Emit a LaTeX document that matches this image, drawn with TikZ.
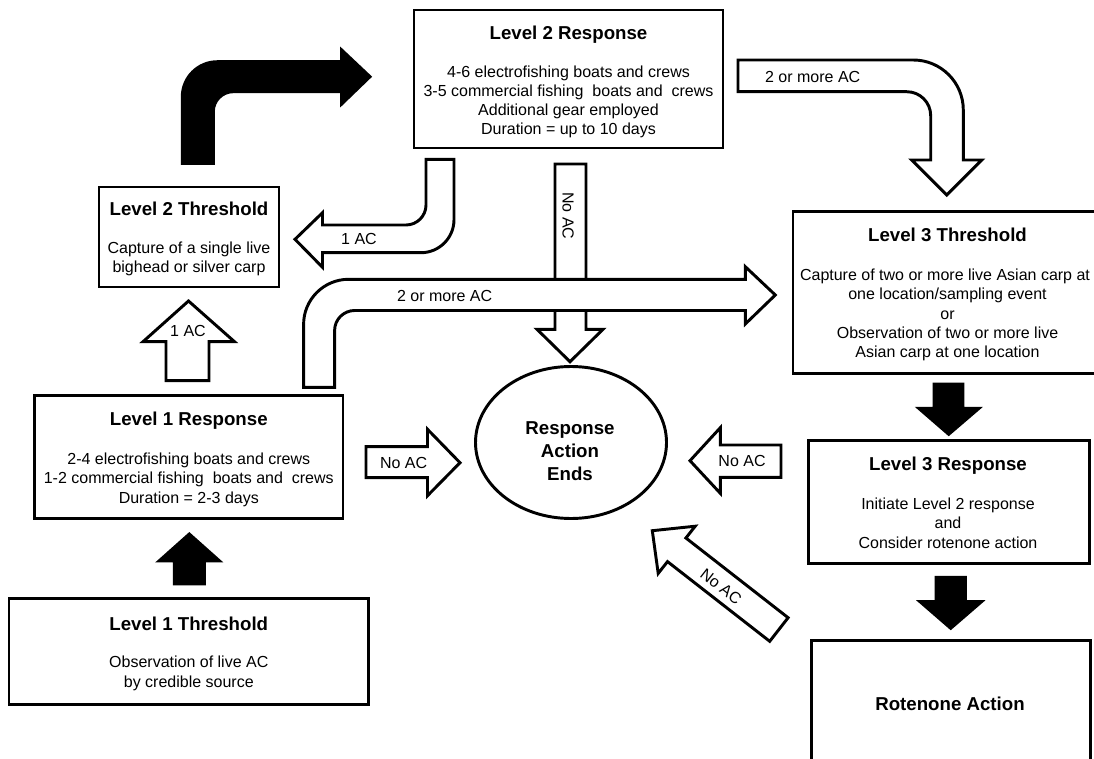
\documentclass[tikz,border=0pt]{standalone}
\usepackage{fontspec}
\setmainfont{Liberation Sans}
\tikzset{
  box/.style={draw, line width=2.2pt, rectangle, inner sep=0pt},
  endbox/.style={draw, line width=2.2pt, ellipse, inner sep=0pt},
  ttl/.style={anchor=base, font=\fontsize{14}{16}\selectfont\bfseries, inner sep=0pt},
  bdy/.style={anchor=base, font=\fontsize{12}{14}\selectfont, inner sep=0pt},
  lbl/.style={font=\fontsize{12}{14}\selectfont, inner sep=0pt},
  wa/.style={draw, fill=white, line width=2.2pt, line join=miter},
  ba/.style={draw, fill=black, line width=2.2pt, line join=miter},
}
\usetikzlibrary{shapes.geometric}
\begin{document}
\begin{tikzpicture}[x=0.75pt,y=-0.75pt]
\useasboundingbox (0,0) rectangle (1094,759);
\clip (0,0) rectangle (1094,759);
\fill[white] (0,0) rectangle (1094,759);

% ---------- boxes ----------
\node[box, minimum width=231.75pt, minimum height=103.5pt] (l2r) at (568.5,79) {};
\node[box, minimum width=135pt, minimum height=75pt] (l2t) at (189,237) {};
\node[box, minimum width=231.3pt, minimum height=92.5pt] (l1r) at (188.8,456.7) {};
\node[box, minimum width=269.7pt, minimum height=79.3pt] (l1t) at (188.8,651.2) {};
\node[box, minimum width=230.25pt, minimum height=121.2pt] (l3t) at (946.5,292.5) {};
\node[box, minimum width=211pt, minimum height=92.5pt] (l3r) at (948.9,501.7) {};
\node[box, minimum width=209.6pt, minimum height=95.25pt] (rot) at (950.8,704) {};
\node[endbox, minimum width=143.25pt, minimum height=114pt] (rae) at (571,442.5) {};

% ---------- box texts ----------
\node[ttl] (l2r-t) at (568.5,39.7) {Level 2 Response};
\node[bdy] (l2r-a) at (568.5,77.5) {4-6 electrofishing boats and crews};
\node[bdy] (l2r-b) at (568.5,97) {3-5 commercial fishing\ \ boats and\ \ crews};
\node[bdy] (l2r-c) at (568.5,116) {Additional gear employed};
\node[bdy] (l2r-d) at (568.5,134.5) {Duration = up to 10 days};

\node[ttl] (l2t-t) at (189,215) {Level 2 Threshold};
\node[bdy] (l2t-a) at (189,253.3) {Capture of a single live};
\node[bdy] (l2t-b) at (189,272.7) {bighead or silver carp};

\node[ttl] (l1r-t) at (188.8,425) {Level 1 Response};
\node[bdy] (l1r-a) at (188.8,464) {2-4 electrofishing boats and crews};
\node[bdy] (l1r-b) at (188.8,483.5) {1-2 commercial fishing\ \ boats and\ \ crews};
\node[bdy] (l1r-c) at (188.8,503) {Duration = 2-3 days};

\node[ttl] (l1t-t) at (188.8,630) {Level 1 Threshold};
\node[bdy] (l1t-a) at (188.8,667.7) {Observation of live AC};
\node[bdy] (l1t-b) at (188.8,687.7) {by credible source};

\node[ttl] (l3t-t) at (947.5,241.3) {Level 3 Threshold};
\node[bdy] (l3t-a) at (945,280) {Capture of two or more live Asian carp at};
\node[bdy] (l3t-b) at (947.5,299.3) {one location/sampling event};
\node[bdy] (l3t-c) at (947.5,319) {or};
\node[bdy] (l3t-d) at (947.5,338.3) {Observation of two or more live};
\node[bdy] (l3t-e) at (947.5,357.3) {Asian carp at one location};

\node[ttl] (l3r-t) at (948,470) {Level 3 Response};
\node[bdy] (l3r-a) at (948,509) {Initiate Level 2 response};
\node[bdy] (l3r-b) at (948,528.3) {and};
\node[bdy] (l3r-c) at (948,548.3) {Consider rotenone action};

\node[ttl] (rot-t) at (950,710.7) {Rotenone Action};

\node[ttl] (rae-a) at (570,434.4) {Response};
\node[ttl] (rae-b) at (570,457.4) {Action};
\node[ttl] (rae-c) at (570,480.4) {Ends};

% ---------- block arrows ----------
% Level 2 Threshold -> Level 2 Response (black, bent)
\path[ba] (182.3,163.3) -- (182.3,96.7)
  .. controls (182.3,77.4) and (198,61.7) .. (217.3,61.7)
  -- (341.7,61.7) -- (341.7,50) -- (370,76.7) -- (341.7,104) -- (341.7,91.7)
  -- (233.3,91.7) .. controls (222.3,91.7) and (213.3,100.7) .. (213.3,111.7)
  -- (213.3,163.3) -- cycle;

% Level 2 Response -> Level 2 Threshold (1 AC, bent)
\path[wa] (426,159.3) -- (426,205)
  .. controls (426,216) and (417,225) .. (406,225)
  -- (322.5,225) -- (322.5,212.7) -- (295,239.3) -- (322.5,267.3) -- (322.5,252.7)
  -- (421,252.7) .. controls (439.2,252.7) and (454,237.9) .. (454,219.7)
  -- (454,159.3) -- cycle;
\node[lbl] (lab-1ac-a) at (359,239) {1 AC};

% Level 2 Response -> Response Action Ends (No AC, vertical)
\path[wa] (555,164) -- (555,329.3) -- (537,329.3) -- (570,361.7) -- (603,329.3)
  -- (586,329.3) -- (586,164) -- cycle;
\node[lbl, rotate=-90] (lab-noac-v) at (568,216) {No AC};

% Level 1 Response -> Level 3 Threshold (2 or more AC)
\path[wa] (303.6,387.3) -- (303.6,324.3)
  .. controls (303.6,299.5) and (323.8,279.3) .. (348.6,279.3)
  -- (745.3,279.3) -- (745.3,266.7) -- (775.3,295) -- (745.3,324) -- (745.3,310.5)
  -- (354.6,310.5) .. controls (343.6,310.5) and (334.6,319.5) .. (334.6,330.5)
  -- (334.6,387.3) -- cycle;
\node[lbl] (lab-2ac-a) at (444.6,296) {2 or more AC};

% Level 1 Response -> Level 2 Threshold (1 AC, up)
\path[wa] (166,380.7) -- (166,341.7) -- (143,341.7) -- (188.5,301) -- (234.5,341.7)
  -- (209,341.7) -- (209,380.7) -- cycle;
\node[lbl] (lab-1ac-b) at (188,331) {1 AC};

% Level 1 Threshold -> Level 1 Response (black, up)
\path[ba] (174.3,584) -- (174.3,561) -- (159,561) -- (189.3,534) -- (219.6,561)
  -- (204.3,561) -- (204.3,584) -- cycle;

% Level 1 Response -> Response Action Ends (No AC, right)
\path[wa] (366,446.7) -- (427.5,446.7) -- (427.5,429.3) -- (460,462.7) -- (427.5,495.7)
  -- (427.5,477.7) -- (366,477.7) -- cycle;
\node[lbl] (lab-noac-r) at (403.6,462.7) {No AC};

% Level 3 Response -> Response Action Ends (No AC, left)
\path[wa] (781,445) -- (720.3,445) -- (720.3,427.7) -- (690,460.7) -- (720.3,493.3)
  -- (720.3,477.3) -- (781,477.3) -- cycle;
\node[lbl] (lab-noac-l) at (742,460.7) {No AC};

% Rotenone Action -> Response Action Ends (No AC, diagonal)
\path[wa] (652.3,530.7) -- (695.2,526.2) -- (685.9,538.0) -- (788.1,617.7)
  -- (769.7,641.3) -- (667.5,561.6) -- (658.2,573.4) -- cycle;
\node[lbl, rotate=-38] (lab-noac-d) at (721,586.7) {No AC};

% Level 2 Response -> Level 3 Threshold (2 or more AC, bent)
\path[wa] (738,60) -- (913.3,60)
  .. controls (940.9,60) and (963.3,82.4) .. (963.3,110)
  -- (963.3,160) -- (981.7,160) -- (946.7,195) -- (911.7,160) -- (930.7,160)
  -- (930.7,115.7) .. controls (930.7,102.4) and (920,91.7) .. (906.7,91.7)
  -- (738,91.7) -- cycle;
\node[lbl] (lab-2ac-b) at (812.7,76.7) {2 or more AC};

% Level 3 Threshold -> Level 3 Response (black, down)
\path[ba] (934,384) -- (934,408.3) -- (918.7,408.3) -- (948.7,434.3) -- (979,408.3)
  -- (963,408.3) -- (963,384) -- cycle;

% Level 3 Response -> Rotenone Action (black, down)
\path[ba] (936,577.3) -- (936,601.7) -- (920,601.7) -- (950.7,628.3) -- (981.5,601.7)
  -- (965.5,601.7) -- (965.5,577.3) -- cycle;
\end{tikzpicture}
\end{document}
